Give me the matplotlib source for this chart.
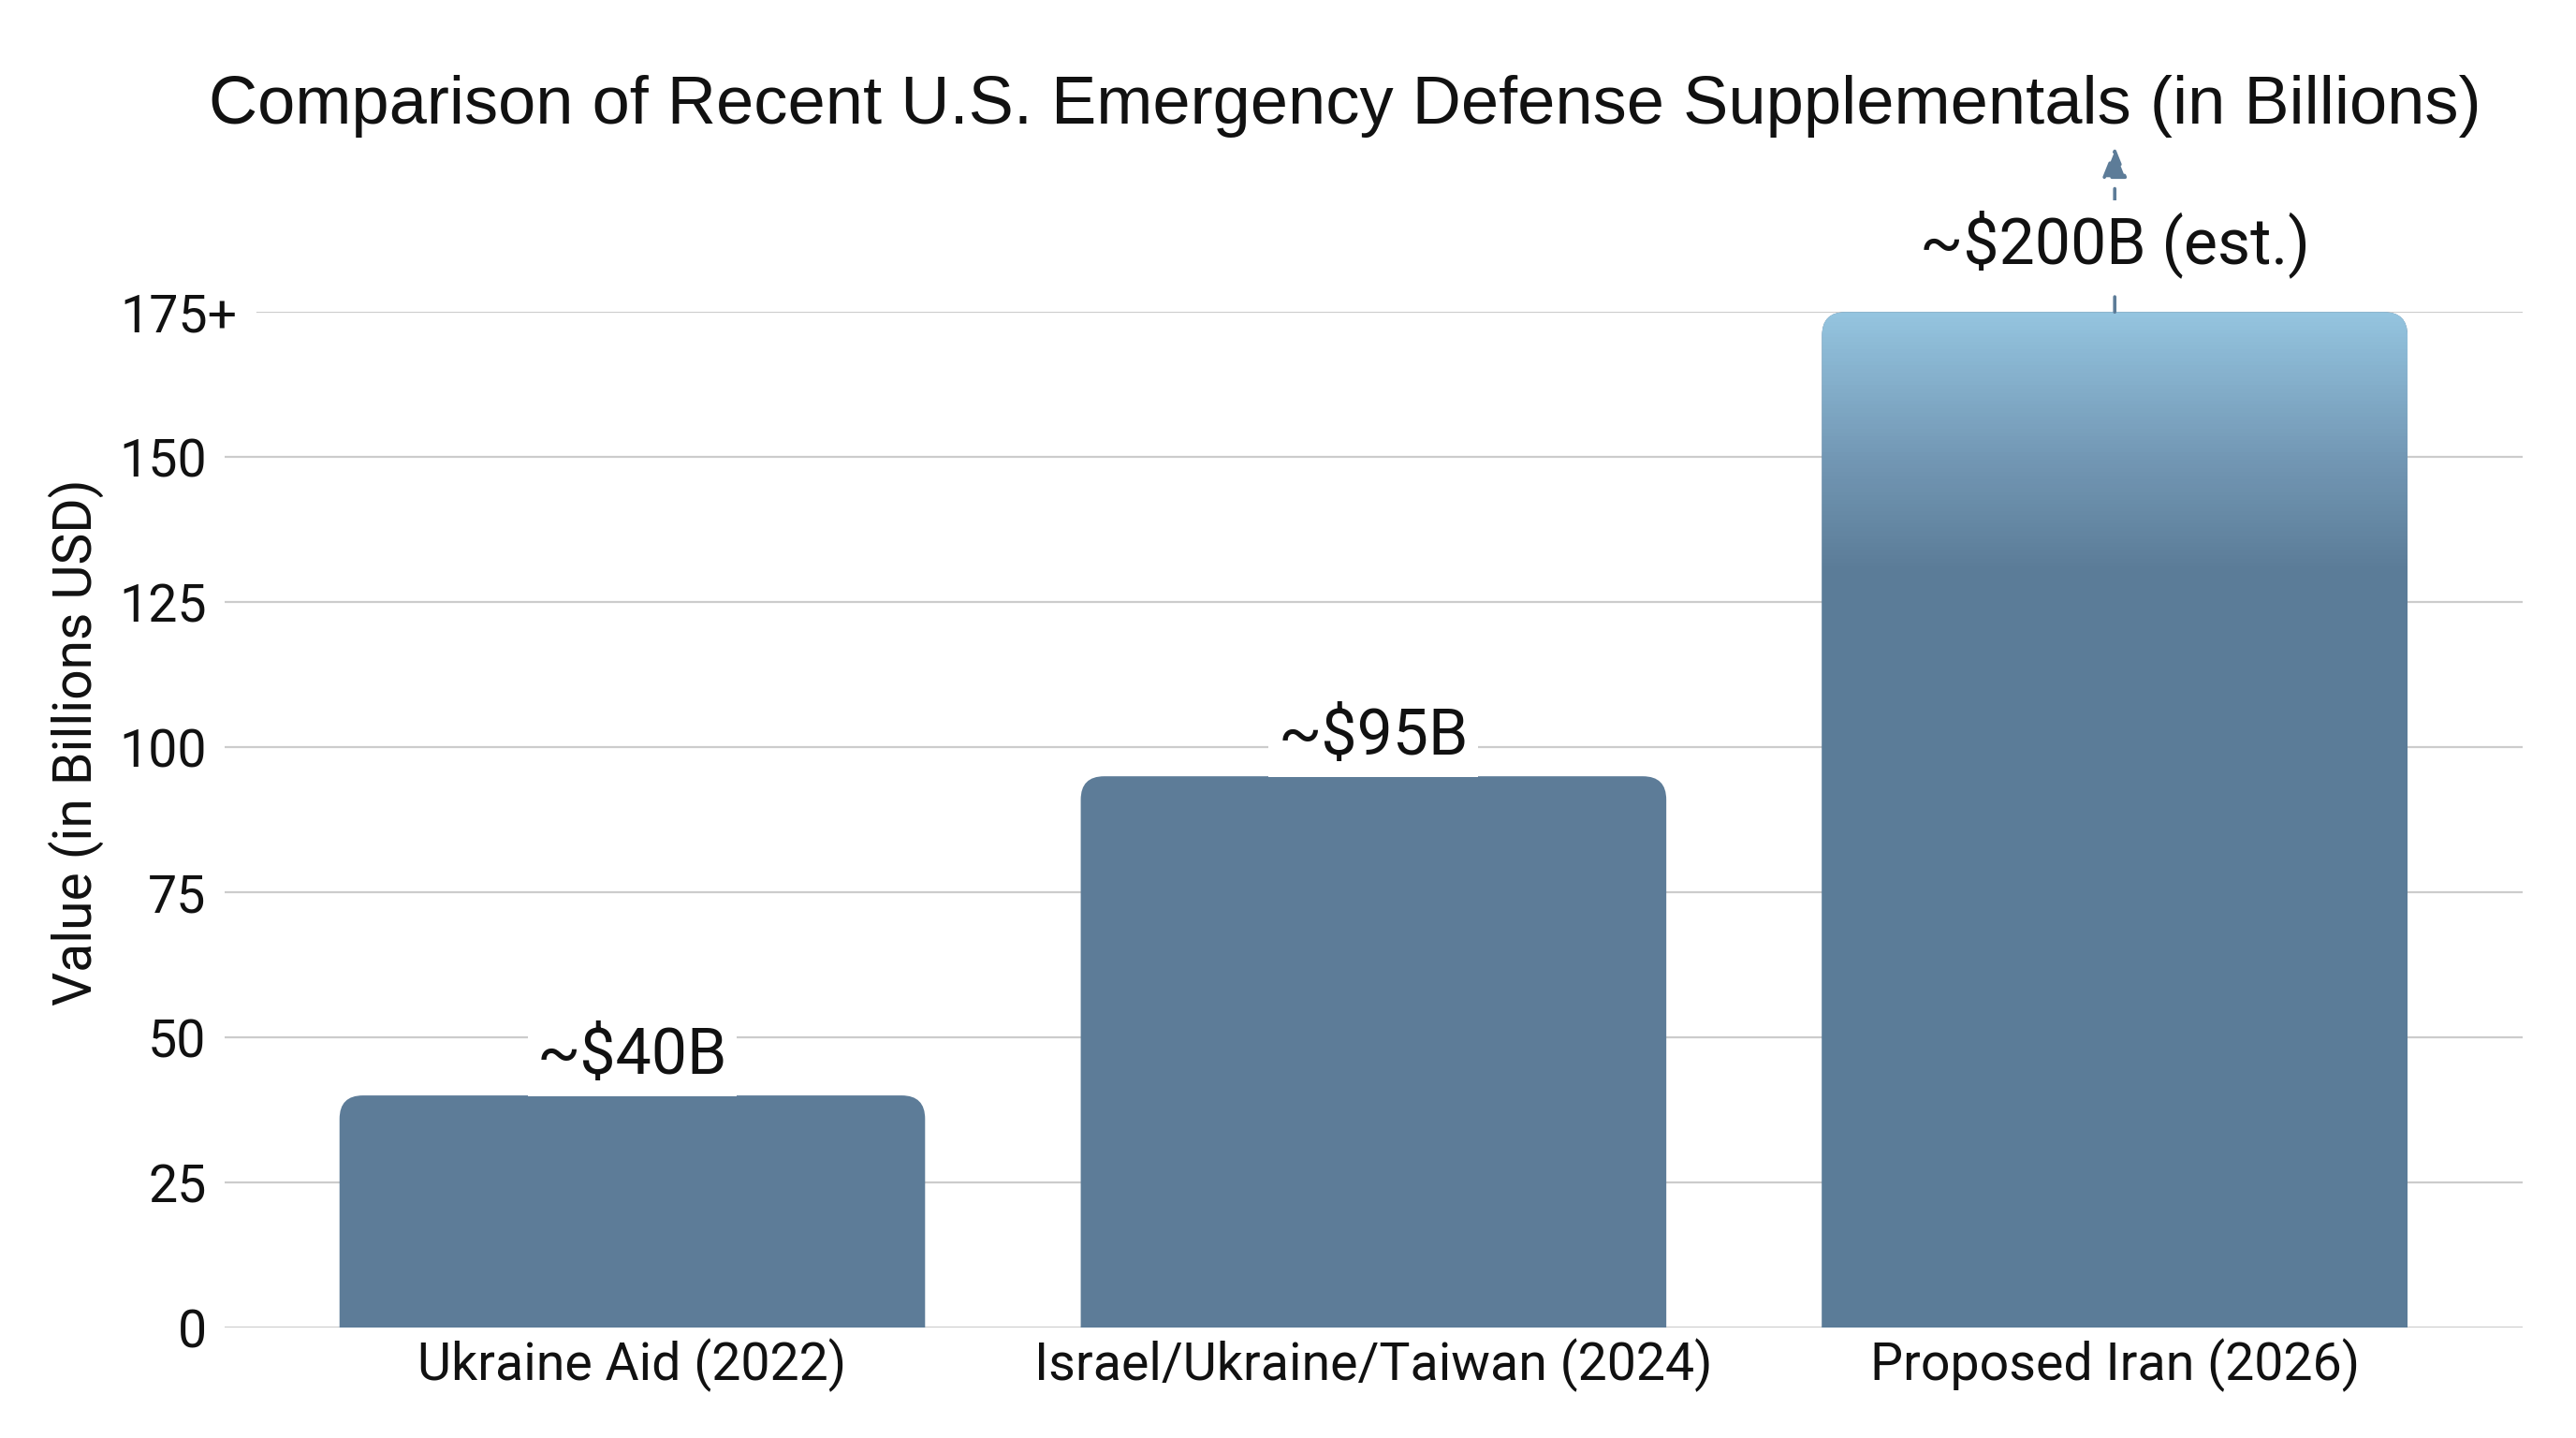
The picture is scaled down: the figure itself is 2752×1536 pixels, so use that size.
import numpy as np
import matplotlib
matplotlib.use("Agg")
import matplotlib.pyplot as plt
from matplotlib.patches import FancyBboxPatch
from matplotlib.colors import LinearSegmentedColormap
import matplotlib.transforms as mtransforms

# ---- data ----
categories = ["Ukraine Aid (2022)", "Israel/Ukraine/Taiwan (2024)", "Proposed Iran (2026)"]
values = [40, 95, 175]
value_labels = ["~$40B", "~$95B", "~$200B (est.)"]
estimated_flags = [False, False, True]
ytick_values = [0, 25, 50, 75, 100, 125, 150, 175]
ytick_labels = ["0", "25", "50", "75", "100", "125", "150", "175+"]

title = "Comparison of Recent U.S. Emergency Defense Supplementals (in Billions)"
ylabel = "Value (in Billions USD)"

BAR_COLOR = "#5d7c98"
GRID_COLOR = "#cccccc"
NARROW = ["Roboto", "DejaVu Sans"]
REG = ["Roboto", "DejaVu Sans"]
TITLE_FONT = ["Liberation Sans", "DejaVu Sans"]

fig = plt.figure(figsize=(27.52, 15.36), dpi=100)
fig.patch.set_facecolor("white")
ax = fig.add_axes([0.0872, 0.0768, 0.8920, 0.7062])
ax.set_facecolor("white")

x = np.arange(len(categories))
bars = ax.bar(x, values, width=0.79, color=BAR_COLOR, zorder=2)
ax.set_xlim(-0.55, 2.55)
ax.set_ylim(0, 175)

for s in ax.spines.values():
    s.set_visible(False)

ax.set_yticks(ytick_values)
ax.set_yticklabels(ytick_labels, family=NARROW, fontsize=40, color="#111111")
ax.set_xticks(x)
ax.set_xticklabels(categories, family=NARROW, fontsize=40, color="#111111")
ax.tick_params(axis="both", length=0)
ax.tick_params(axis="y", pad=14)
ax.tick_params(axis="x", pad=8)

# gridlines (175 line starts a bit later, next to the "175+" label)
for yv in ytick_values:
    xstart = 0.0143 if yv == ytick_values[-1] else 0.0
    ax.axhline(yv, xmin=xstart, xmax=1.0, color=GRID_COLOR, lw=1.6, zorder=0)

# shift "175+" label right
lab = ax.get_yticklabels()[-1]
lab.set_transform(lab.get_transform() + mtransforms.ScaledTranslation(33 / 100, 0, fig.dpi_scale_trans))

# ---- rounded bars ----
fig.canvas.draw()
bb = ax.get_window_extent()
px_per_x = bb.width / (ax.get_xlim()[1] - ax.get_xlim()[0])
px_per_y = bb.height / (ax.get_ylim()[1] - ax.get_ylim()[0])
radius_px = 25
r_x = radius_px / px_per_x
aspect = px_per_x / px_per_y

cmap = LinearSegmentedColormap.from_list(
    "grad", [(0.0, "#5b7c98"), (0.75, "#5c7d99"), (0.86, "#7398b5"), (1.0, "#94c4df")])

for rect, est in zip(bars.patches, estimated_flags):
    rect.set_visible(False)
    x0, w, h = rect.get_x(), rect.get_width(), rect.get_height()
    patch = FancyBboxPatch((x0, -20), w, h + 20,
                           boxstyle=f"round,pad=0,rounding_size={r_x}",
                           mutation_aspect=aspect,
                           facecolor=BAR_COLOR, edgecolor="none", zorder=2)
    ax.add_patch(patch)
    if est:
        # soft glow above the bar
        t = np.linspace(0, 1, 64)
        glow_rgba = np.zeros((64, 1, 4))
        glow_rgba[:, 0, 0] = 0.62
        glow_rgba[:, 0, 1] = 0.80
        glow_rgba[:, 0, 2] = 0.90
        glow_rgba[:, 0, 3] = (1 - t) ** 2 * 0.35
        ax.imshow(glow_rgba, extent=(x0 + r_x * 0.5, x0 + w - r_x * 0.5, h, h + 3.5),
                  origin="lower", aspect="auto", zorder=1.5, interpolation="bilinear")
        # gradient fill
        grad = np.linspace(0, 1, 256).reshape(-1, 1)
        im = ax.imshow(grad, extent=(x0, x0 + w, 0, h), origin="lower",
                       cmap=cmap, aspect="auto", zorder=2.1, vmin=0, vmax=1,
                       interpolation="bilinear")
        im.set_clip_path(patch)
ax.set_xlim(-0.55, 2.55)
ax.set_ylim(0, 175)

# ---- value labels ----
for rect, lbl, est in zip(bars.patches, value_labels, estimated_flags):
    cx = rect.get_x() + rect.get_width() / 2
    top = rect.get_height()
    if est:
        ax.annotate("", xy=(cx, top + 28.5), xytext=(cx, top),
                    arrowprops=dict(arrowstyle="-|>,head_length=2.0,head_width=0.8",
                                    color=BAR_COLOR, lw=2.6, linestyle=(0, (4.5, 3.5)),
                                    shrinkA=0, shrinkB=0),
                    annotation_clip=False, zorder=3)
        off = 8.4
    else:
        off = 3.8
    ax.text(cx, top + off, lbl, ha="center", va="baseline", family=REG, fontsize=49,
            color="#111111", zorder=4, clip_on=False,
            bbox=dict(boxstyle="square,pad=0.15", facecolor="white", edgecolor="none"))

# ---- title & y label ----
fig.text(0.522, 0.914, title, ha="center", va="baseline", family=TITLE_FONT,
         fontsize=52, color="#111111")
fig.text(0.0294, 0.4837, ylabel, rotation=90, ha="center", va="center",
         family=NARROW, fontsize=41, color="#111111")

fig.savefig("out.png", dpi=100, facecolor="white")
